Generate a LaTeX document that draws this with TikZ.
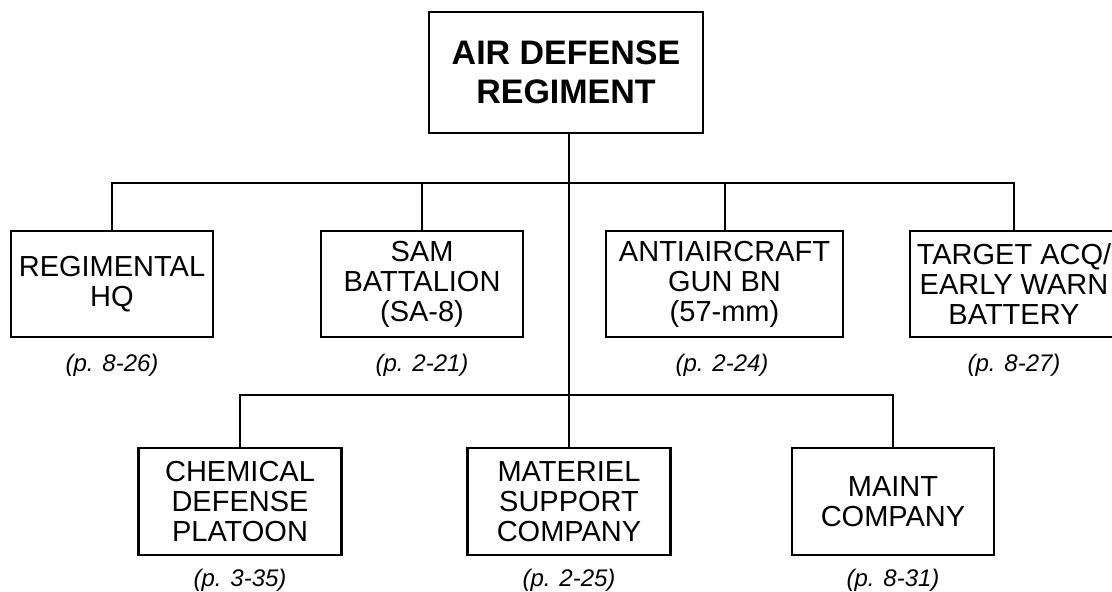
\documentclass[tikz,border=0pt]{standalone}
\usepackage{fontspec}
\setmainfont{Liberation Sans}

\begin{document}
\begin{tikzpicture}[x=1pt, y=-1pt,
    unit/.style={draw, line width=2.4pt, align=center, inner sep=0pt, minimum height=106pt, font=\fontsize{29}{30}\selectfont},
    pagenum/.style={font=\fontsize{24}{28}\selectfont\itshape},
    link/.style={line width=2pt}]
    \useasboundingbox (0,0) rectangle (1112,592);
    \clip (0,0) rectangle (1112,592);

    % Draw nodes
    \node[unit, minimum width=274pt, minimum height=121pt, font=\fontsize{34}{39}\selectfont\bfseries] (adr) at (566,72.5) {AIR DEFENSE\\REGIMENT};
    \node[unit, minimum width=202pt] (hq) at (112,284) {REGIMENTAL\\HQ};
    \node[unit, minimum width=202pt] (sam) at (422,284) {SAM\\BATTALION\\(SA-8)};
    \node[unit, minimum width=237pt] (aa) at (724.5,284) {ANTIAIRCRAFT\\GUN BN\\(57-mm)};
    \node[unit, minimum width=208pt] (tgt) at (1014,284) {TARGET ACQ/\\EARLY WARN\\BATTERY};
    \node[unit, minimum width=203pt, minimum height=107pt] (chem) at (240,501.5) {CHEMICAL\\DEFENSE\\PLATOON};
    \node[unit, minimum width=203pt, minimum height=107pt] (mat) at (569,501.5) {MATERIEL\\SUPPORT\\COMPANY};
    \node[unit, minimum width=202pt, minimum height=107pt] (maint) at (893,501.5) {MAINT\\COMPANY};
    \coordinate (upbus) at (569,183);
    \coordinate (lowbus) at (569,395);

    % Draw connections
    \draw[link] (hq.north) |- (upbus) -| (tgt.north);
    \draw[link] (sam.north) -- (sam.north |- upbus);
    \draw[link] (aa.north) -- (aa.north |- upbus);
    \draw[link] (adr.south -| mat.north) -- (mat.north);
    \draw[link] (chem.north) |- (lowbus) -| (maint.north);

    % Labels
    \node[pagenum] (hqp) at (hq |- 0,365) {(p. 8-26)};
    \node[pagenum] (samp) at (sam |- 0,365) {(p. 2-21)};
    \node[pagenum] (aap) at (722,365) {(p. 2-24)};
    \node[pagenum] (tgtp) at (tgt |- 0,365) {(p. 8-27)};
    \node[pagenum] (chemp) at (chem |- 0,580) {(p. 3-35)};
    \node[pagenum] (matp) at (mat |- 0,580) {(p. 2-25)};
    \node[pagenum] (maintp) at (maint |- 0,580) {(p. 8-31)};
\end{tikzpicture}
\end{document}
